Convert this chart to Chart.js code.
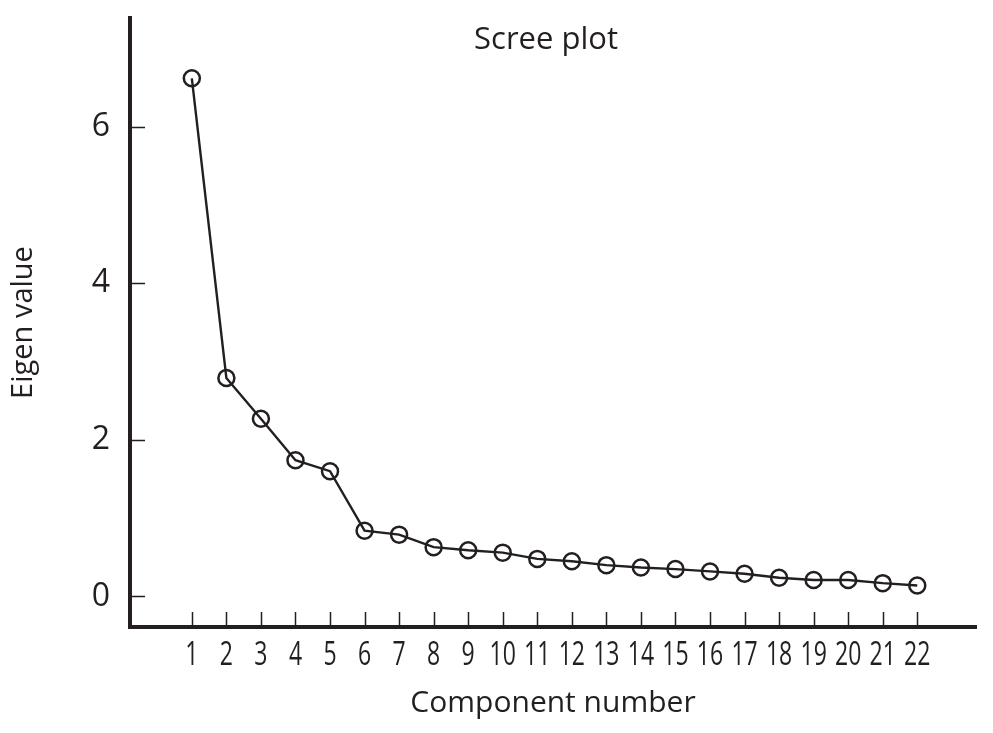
<!DOCTYPE html>
<html>
<head>
<meta charset="utf-8">
<script src="https://cdn.jsdelivr.net/npm/chart.js@4.4.1/dist/chart.umd.min.js"></script>
<style>
  html, body { margin: 0; padding: 0; background: #fff; }
  #wrap { width: 993px; height: 733px; position: relative; }
</style>
</head>
<body>
<div id="wrap"><canvas id="scree"></canvas></div>
<script>
// ── data ──
const components = [1, 2, 3, 4, 5, 6, 7, 8, 9, 10, 11, 12, 13, 14, 15, 16, 17, 18, 19, 20, 21, 22];
const eigenValues = [6.62, 2.79, 2.27, 1.74, 1.60, 0.84, 0.79, 0.63, 0.59, 0.56, 0.48, 0.45,
                     0.40, 0.37, 0.35, 0.32, 0.29, 0.24, 0.21, 0.21, 0.17, 0.14];
const yTickValues = [0, 2, 4, 6];
const xTickValues = components;

const INK = '#231f20';
const TICK_LEN = 15;
const X_LABEL_SQUEEZE = 0.72; // condensed digits like the printed figure

// inward tick marks on both axes + condensed x labels
const innerTicksPlugin = {
  id: 'innerTicks',
  afterDraw(chart) {
    const ctx = chart.ctx;
    const { left, bottom } = chart.chartArea;
    const xs = chart.scales.x, ys = chart.scales.y;
    ctx.save();
    ctx.strokeStyle = INK;
    ctx.lineWidth = 1.5;
    ctx.beginPath();
    yTickValues.forEach(v => {
      const py = Math.round(ys.getPixelForValue(v)) + 0.5;
      ctx.moveTo(left, py);
      ctx.lineTo(left + TICK_LEN, py);
    });
    xTickValues.forEach(v => {
      const px = Math.round(xs.getPixelForValue(v)) + 0.5;
      ctx.moveTo(px, bottom);
      ctx.lineTo(px, bottom - TICK_LEN);
    });
    ctx.stroke();

    // x tick labels, squeezed horizontally
    ctx.font = "32px 'Open Sans'";
    ctx.fillStyle = INK;
    ctx.textAlign = 'center';
    ctx.textBaseline = 'middle';
    xTickValues.forEach(v => {
      const px = xs.getPixelForValue(v);
      ctx.save();
      ctx.translate(px, bottom + 29);
      ctx.scale(X_LABEL_SQUEEZE, 1);
      ctx.fillText(String(v), 0, 0);
      ctx.restore();
    });
    ctx.restore();
  },
};

// title sits inside the plot area
const innerTitlePlugin = {
  id: 'innerTitle',
  afterDraw(chart) {
    const ctx = chart.ctx;
    ctx.save();
    ctx.font = "31px 'Open Sans'";
    ctx.fillStyle = INK;
    ctx.textAlign = 'center';
    ctx.textBaseline = 'middle';
    ctx.fillText('Scree plot', 546, 40);
    ctx.restore();
  },
};

new Chart(document.getElementById('scree'), {
  type: 'line',
  data: {
    datasets: [{
      label: 'Eigen value',
      data: components.map((c, i) => ({ x: c, y: eigenValues[i] })),
      borderColor: INK,
      borderWidth: 2.4,
      pointRadius: 8,
      pointBorderWidth: 2.5,
      pointBorderColor: INK,
      pointBackgroundColor: 'rgba(0,0,0,0)',
      tension: 0,
    }],
  },
  plugins: [innerTicksPlugin, innerTitlePlugin],
  options: {
    responsive: true,
    maintainAspectRatio: false,
    animation: false,
    layout: { padding: { top: 18, right: 17, left: 0, bottom: 0 } },
    plugins: {
      legend: { display: false },
      tooltip: { enabled: false },
    },
    scales: {
      x: {
        type: 'linear',
        min: -0.79,
        max: 23.7,
        afterBuildTicks: s => { s.ticks = xTickValues.map(v => ({ value: v })); },
        afterFit: s => { s.height = 106; s.paddingLeft = 0; s.paddingRight = 0; },
        grid: { display: false, drawTicks: false },
        border: { display: true, color: INK, width: 4 },
        ticks: { display: false },
        title: {
          display: true,
          text: 'Component number',
          color: INK,
          padding: { top: 0, bottom: 12 },
          font: { family: "'Open Sans'", size: 30 },
        },
      },
      y: {
        min: -0.39,
        max: 7.39,
        afterBuildTicks: s => { s.ticks = yTickValues.map(v => ({ value: v })); },
        afterFit: s => { s.width = 130; s.paddingTop = 0; s.paddingBottom = 0; },
        grid: { display: false, drawTicks: false },
        border: { display: true, color: INK, width: 4 },
        ticks: {
          padding: 20,
          color: INK,
          font: { family: "'Open Sans'", size: 32 },
        },
        title: {
          display: true,
          text: 'Eigen value',
          color: INK,
          padding: { top: 6 },
          font: { family: "'Open Sans'", size: 29 },
        },
      },
    },
  },
});
</script>
</body>
</html>
